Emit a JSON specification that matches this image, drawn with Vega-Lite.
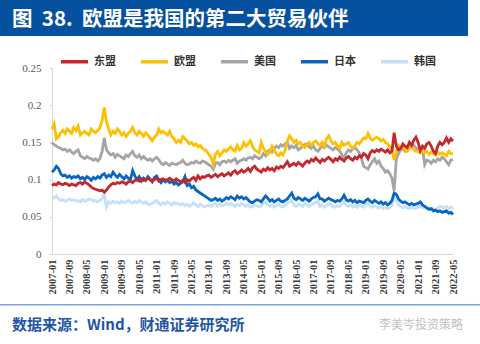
{
"$schema": "https://vega.github.io/schema/vega-lite/v6.json",
"padding": 0,
"spacing": 0,
"background": "white",
"config": {"view": {"stroke": null}},
"resolve": {"scale": {"color": "independent"}, "legend": {"color": "independent"}},
"vconcat": [
{
"width": 468, "height": 36,
"view": {"fill": "#05509F", "stroke": null},
"data": {"values": [{"t": "图\u00a0\u00a038.\u00a0\u00a0欧盟是我国的第二大贸易伙伴"}]},
"mark": {"type": "text", "align": "left", "baseline": "middle", "dx": -222, "dy": 2, "color": "white", "font": "Noto Sans CJK SC", "fontSize": 20.5, "fontWeight": "bold"},
"encoding": {"text": {"field": "t"}}
},
{
"spacing": 0,
"resolve": {"scale": {"color": "independent"}, "legend": {"color": "independent"}},
"hconcat": [
{
"width": 21, "height": 186,
"data": {"values": [{"t": ""}]},
"mark": {"type": "text"},
"encoding": {"text": {"field": "t"}}
},
{
"width": 401, "height": 186,
"data": {"values": [
{"d":"2007-01","东盟":0.092,"欧盟":0.168,"美国":0.150,"日本":0.110,"韩国":0.077},
{"d":"2007-02","东盟":0.094,"欧盟":0.175,"美国":0.147,"日本":0.113,"韩国":0.075},
{"d":"2007-03","东盟":0.093,"欧盟":0.155,"美国":0.145,"日本":0.118,"韩国":0.078},
{"d":"2007-04","东盟":0.096,"欧盟":0.158,"美国":0.143,"日本":0.115,"韩国":0.074},
{"d":"2007-05","东盟":0.094,"欧盟":0.163,"美国":0.142,"日本":0.108,"韩国":0.072},
{"d":"2007-06","东盟":0.093,"欧盟":0.166,"美国":0.140,"日本":0.105,"韩国":0.073},
{"d":"2007-07","东盟":0.095,"欧盟":0.162,"美国":0.141,"日本":0.106,"韩国":0.071},
{"d":"2007-08","东盟":0.094,"欧盟":0.168,"美国":0.138,"日本":0.103,"韩国":0.072},
{"d":"2007-09","东盟":0.092,"欧盟":0.165,"美国":0.140,"日本":0.105,"韩国":0.074},
{"d":"2007-10","东盟":0.094,"欧盟":0.162,"美国":0.137,"日本":0.102,"韩国":0.072},
{"d":"2007-11","东盟":0.093,"欧盟":0.170,"美国":0.135,"日本":0.104,"韩国":0.073},
{"d":"2007-12","东盟":0.092,"欧盟":0.166,"美国":0.138,"日本":0.103,"韩国":0.071},
{"d":"2008-01","东盟":0.095,"欧盟":0.172,"美国":0.140,"日本":0.105,"韩国":0.072},
{"d":"2008-02","东盟":0.096,"欧盟":0.160,"美国":0.132,"日本":0.101,"韩国":0.070},
{"d":"2008-03","东盟":0.094,"欧盟":0.163,"美国":0.130,"日本":0.103,"韩国":0.073},
{"d":"2008-04","东盟":0.097,"欧盟":0.165,"美国":0.128,"日本":0.100,"韩国":0.071},
{"d":"2008-05","东盟":0.095,"欧盟":0.162,"美国":0.131,"日本":0.104,"韩国":0.072},
{"d":"2008-06","东盟":0.093,"欧盟":0.160,"美国":0.129,"日本":0.102,"韩国":0.074},
{"d":"2008-07","东盟":0.090,"欧盟":0.168,"美国":0.128,"日本":0.099,"韩国":0.073},
{"d":"2008-08","东盟":0.088,"欧盟":0.165,"美国":0.126,"日本":0.103,"韩国":0.071},
{"d":"2008-09","东盟":0.087,"欧盟":0.163,"美国":0.128,"日本":0.101,"韩国":0.072},
{"d":"2008-10","东盟":0.086,"欧盟":0.166,"美国":0.125,"日本":0.104,"韩国":0.070},
{"d":"2008-11","东盟":0.085,"欧盟":0.170,"美国":0.128,"日本":0.102,"韩国":0.072},
{"d":"2008-12","东盟":0.086,"欧盟":0.180,"美国":0.138,"日本":0.106,"韩国":0.075},
{"d":"2009-01","东盟":0.083,"欧盟":0.197,"美国":0.156,"日本":0.108,"韩国":0.080},
{"d":"2009-02","东盟":0.086,"欧盟":0.178,"美国":0.140,"日本":0.103,"韩国":0.063},
{"d":"2009-03","东盟":0.090,"欧盟":0.168,"美国":0.136,"日本":0.106,"韩国":0.070},
{"d":"2009-04","东盟":0.093,"欧盟":0.160,"美国":0.133,"日本":0.104,"韩国":0.068},
{"d":"2009-05","东盟":0.095,"欧盟":0.165,"美国":0.135,"日本":0.110,"韩国":0.071},
{"d":"2009-06","东盟":0.094,"欧盟":0.162,"美国":0.130,"日本":0.106,"韩国":0.069},
{"d":"2009-07","东盟":0.096,"欧盟":0.168,"美国":0.134,"日本":0.103,"韩国":0.070},
{"d":"2009-08","东盟":0.095,"欧盟":0.165,"美国":0.132,"日本":0.107,"韩国":0.068},
{"d":"2009-09","东盟":0.097,"欧盟":0.160,"美国":0.130,"日本":0.104,"韩国":0.071},
{"d":"2009-10","东盟":0.096,"欧盟":0.163,"美国":0.128,"日本":0.101,"韩国":0.069},
{"d":"2009-11","东盟":0.094,"欧盟":0.158,"美国":0.133,"日本":0.105,"韩国":0.070},
{"d":"2009-12","东盟":0.097,"欧盟":0.162,"美国":0.131,"日本":0.102,"韩国":0.072},
{"d":"2010-01","东盟":0.098,"欧盟":0.165,"美国":0.135,"日本":0.100,"韩国":0.070},
{"d":"2010-02","东盟":0.096,"欧盟":0.170,"美国":0.138,"日本":0.112,"韩国":0.068},
{"d":"2010-03","东盟":0.099,"欧盟":0.163,"美国":0.132,"日本":0.105,"韩国":0.071},
{"d":"2010-04","东盟":0.100,"欧盟":0.160,"美国":0.130,"日本":0.100,"韩国":0.069},
{"d":"2010-05","东盟":0.098,"欧盟":0.165,"美国":0.133,"日本":0.104,"韩国":0.072},
{"d":"2010-06","东盟":0.101,"欧盟":0.162,"美国":0.128,"日本":0.098,"韩国":0.070},
{"d":"2010-07","东盟":0.099,"欧盟":0.158,"美国":0.131,"日本":0.102,"韩国":0.068},
{"d":"2010-08","东盟":0.100,"欧盟":0.163,"美国":0.128,"日本":0.099,"韩国":0.070},
{"d":"2010-09","东盟":0.102,"欧盟":0.160,"美国":0.126,"日本":0.104,"韩国":0.067},
{"d":"2010-10","东盟":0.100,"欧盟":0.156,"美国":0.128,"日本":0.101,"韩国":0.066},
{"d":"2010-11","东盟":0.098,"欧盟":0.152,"美国":0.125,"日本":0.097,"韩国":0.068},
{"d":"2010-12","东盟":0.100,"欧盟":0.157,"美国":0.128,"日本":0.103,"韩国":0.070},
{"d":"2011-01","东盟":0.102,"欧盟":0.160,"美国":0.130,"日本":0.105,"韩国":0.072},
{"d":"2011-02","东盟":0.098,"欧盟":0.168,"美国":0.127,"日本":0.100,"韩国":0.068},
{"d":"2011-03","东盟":0.100,"欧盟":0.163,"美国":0.122,"日本":0.096,"韩国":0.066},
{"d":"2011-04","东盟":0.101,"欧盟":0.165,"美国":0.120,"日本":0.100,"韩国":0.069},
{"d":"2011-05","东盟":0.099,"欧盟":0.162,"美国":0.123,"日本":0.097,"韩国":0.067},
{"d":"2011-06","东盟":0.100,"欧盟":0.160,"美国":0.121,"日本":0.099,"韩国":0.070},
{"d":"2011-07","东盟":0.102,"欧盟":0.165,"美国":0.119,"日本":0.096,"韩国":0.068},
{"d":"2011-08","东盟":0.100,"欧盟":0.158,"美国":0.122,"日本":0.098,"韩国":0.066},
{"d":"2011-09","东盟":0.098,"欧盟":0.155,"美国":0.121,"日本":0.094,"韩国":0.069},
{"d":"2011-10","东盟":0.101,"欧盟":0.150,"美国":0.120,"日本":0.096,"韩国":0.067},
{"d":"2011-11","东盟":0.099,"欧盟":0.153,"美国":0.122,"日本":0.093,"韩国":0.068},
{"d":"2011-12","东盟":0.097,"欧盟":0.150,"美国":0.123,"日本":0.095,"韩国":0.066},
{"d":"2012-01","东盟":0.099,"欧盟":0.158,"美国":0.126,"日本":0.097,"韩国":0.068},
{"d":"2012-02","东盟":0.096,"欧盟":0.155,"美国":0.122,"日本":0.104,"韩国":0.065},
{"d":"2012-03","东盟":0.100,"欧盟":0.152,"美国":0.120,"日本":0.092,"韩国":0.067},
{"d":"2012-04","东盟":0.098,"欧盟":0.148,"美国":0.121,"日本":0.094,"韩国":0.064},
{"d":"2012-05","东盟":0.101,"欧盟":0.150,"美国":0.123,"日本":0.089,"韩国":0.066},
{"d":"2012-06","东盟":0.103,"欧盟":0.146,"美国":0.122,"日本":0.091,"韩国":0.069},
{"d":"2012-07","东盟":0.099,"欧盟":0.148,"美国":0.125,"日本":0.086,"韩国":0.066},
{"d":"2012-08","东盟":0.105,"欧盟":0.144,"美国":0.123,"日本":0.084,"韩国":0.064},
{"d":"2012-09","东盟":0.101,"欧盟":0.146,"美国":0.122,"日本":0.082,"韩国":0.067},
{"d":"2012-10","东盟":0.104,"欧盟":0.142,"美国":0.125,"日本":0.080,"韩国":0.065},
{"d":"2012-11","东盟":0.103,"欧盟":0.140,"美国":0.124,"日本":0.078,"韩国":0.063},
{"d":"2012-12","东盟":0.105,"欧盟":0.138,"美国":0.122,"日本":0.076,"韩国":0.065},
{"d":"2013-01","东盟":0.106,"欧盟":0.134,"美国":0.120,"日本":0.074,"韩国":0.066},
{"d":"2013-02","东盟":0.103,"欧盟":0.130,"美国":0.118,"日本":0.072,"韩国":0.064},
{"d":"2013-03","东盟":0.105,"欧盟":0.121,"美国":0.114,"日本":0.073,"韩国":0.066},
{"d":"2013-04","东盟":0.107,"欧盟":0.134,"美国":0.122,"日本":0.075,"韩国":0.068},
{"d":"2013-05","东盟":0.104,"欧盟":0.138,"美国":0.123,"日本":0.072,"韩国":0.065},
{"d":"2013-06","东盟":0.106,"欧盟":0.132,"美国":0.120,"日本":0.074,"韩国":0.067},
{"d":"2013-07","东盟":0.108,"欧盟":0.136,"美国":0.124,"日本":0.071,"韩国":0.065},
{"d":"2013-08","东盟":0.105,"欧盟":0.140,"美国":0.125,"日本":0.073,"韩国":0.066},
{"d":"2013-09","东盟":0.107,"欧盟":0.138,"美国":0.123,"日本":0.076,"韩国":0.069},
{"d":"2013-10","东盟":0.109,"欧盟":0.141,"美国":0.126,"日本":0.074,"韩国":0.066},
{"d":"2013-11","东盟":0.106,"欧盟":0.144,"美国":0.124,"日本":0.077,"韩国":0.068},
{"d":"2013-12","东盟":0.110,"欧盟":0.140,"美国":0.126,"日本":0.075,"韩国":0.066},
{"d":"2014-01","东盟":0.112,"欧盟":0.138,"美国":0.128,"日本":0.073,"韩国":0.064},
{"d":"2014-02","东盟":0.108,"欧盟":0.146,"美国":0.122,"日本":0.078,"韩国":0.067},
{"d":"2014-03","东盟":0.110,"欧盟":0.140,"美国":0.125,"日本":0.075,"韩国":0.065},
{"d":"2014-04","东盟":0.113,"欧盟":0.142,"美国":0.126,"日本":0.077,"韩国":0.068},
{"d":"2014-05","东盟":0.110,"欧盟":0.150,"美国":0.128,"日本":0.074,"韩国":0.066},
{"d":"2014-06","东盟":0.112,"欧盟":0.145,"美国":0.126,"日本":0.076,"韩国":0.064},
{"d":"2014-07","东盟":0.115,"欧盟":0.148,"美国":0.129,"日本":0.073,"韩国":0.066},
{"d":"2014-08","东盟":0.111,"欧盟":0.152,"美国":0.130,"日本":0.070,"韩国":0.063},
{"d":"2014-09","东盟":0.116,"欧盟":0.145,"美国":0.128,"日本":0.069,"韩国":0.064},
{"d":"2014-10","东盟":0.118,"欧盟":0.140,"美国":0.132,"日本":0.071,"韩国":0.066},
{"d":"2014-11","东盟":0.114,"欧盟":0.138,"美国":0.130,"日本":0.073,"韩国":0.065},
{"d":"2014-12","东盟":0.112,"欧盟":0.136,"美国":0.128,"日本":0.072,"韩国":0.063},
{"d":"2015-01","东盟":0.110,"欧盟":0.150,"美国":0.130,"日本":0.070,"韩国":0.065},
{"d":"2015-02","东盟":0.114,"欧盟":0.142,"美国":0.135,"日本":0.074,"韩国":0.068},
{"d":"2015-03","东盟":0.112,"欧盟":0.138,"美国":0.132,"日本":0.078,"韩国":0.070},
{"d":"2015-04","东盟":0.116,"欧盟":0.134,"美国":0.138,"日本":0.075,"韩国":0.066},
{"d":"2015-05","东盟":0.113,"欧盟":0.137,"美国":0.140,"日本":0.071,"韩国":0.064},
{"d":"2015-06","东盟":0.115,"欧盟":0.145,"美国":0.137,"日本":0.073,"韩国":0.066},
{"d":"2015-07","东盟":0.112,"欧盟":0.140,"美国":0.142,"日本":0.070,"韩国":0.063},
{"d":"2015-08","东盟":0.117,"欧盟":0.134,"美国":0.145,"日本":0.072,"韩国":0.065},
{"d":"2015-09","东盟":0.115,"欧盟":0.132,"美国":0.143,"日本":0.074,"韩国":0.067},
{"d":"2015-10","东盟":0.118,"欧盟":0.136,"美国":0.147,"日本":0.071,"韩国":0.064},
{"d":"2015-11","东盟":0.116,"欧盟":0.133,"美国":0.145,"日本":0.070,"韩国":0.063},
{"d":"2015-12","东盟":0.120,"欧盟":0.140,"美国":0.148,"日本":0.072,"韩国":0.066},
{"d":"2016-01","东盟":0.124,"欧盟":0.152,"美国":0.150,"日本":0.074,"韩国":0.068},
{"d":"2016-02","东盟":0.118,"欧盟":0.159,"美国":0.142,"日本":0.078,"韩国":0.070},
{"d":"2016-03","东盟":0.120,"欧盟":0.155,"美国":0.145,"日本":0.082,"韩国":0.072},
{"d":"2016-04","东盟":0.122,"欧盟":0.150,"美国":0.143,"日本":0.075,"韩国":0.066},
{"d":"2016-05","东盟":0.119,"欧盟":0.153,"美国":0.146,"日本":0.073,"韩国":0.064},
{"d":"2016-06","东盟":0.123,"欧盟":0.148,"美国":0.140,"日本":0.076,"韩国":0.067},
{"d":"2016-07","东盟":0.121,"欧盟":0.150,"美国":0.142,"日本":0.074,"韩国":0.066},
{"d":"2016-08","东盟":0.118,"欧盟":0.145,"美国":0.145,"日本":0.072,"韩国":0.064},
{"d":"2016-09","东盟":0.122,"欧盟":0.143,"美国":0.147,"日本":0.075,"韩国":0.068},
{"d":"2016-10","东盟":0.125,"欧盟":0.147,"美国":0.148,"日本":0.073,"韩国":0.066},
{"d":"2016-11","东盟":0.123,"欧盟":0.150,"美国":0.144,"日本":0.071,"韩国":0.064},
{"d":"2016-12","东盟":0.127,"欧盟":0.146,"美国":0.142,"日本":0.074,"韩国":0.066},
{"d":"2017-01","东盟":0.125,"欧盟":0.150,"美国":0.145,"日本":0.076,"韩国":0.068},
{"d":"2017-02","东盟":0.129,"欧盟":0.152,"美国":0.140,"日本":0.077,"韩国":0.069},
{"d":"2017-03","东盟":0.126,"欧盟":0.148,"美国":0.138,"日本":0.081,"韩国":0.071},
{"d":"2017-04","东盟":0.123,"欧盟":0.146,"美国":0.142,"日本":0.074,"韩国":0.064},
{"d":"2017-05","东盟":0.127,"欧盟":0.150,"美国":0.145,"日本":0.074,"韩国":0.066},
{"d":"2017-06","东盟":0.125,"欧盟":0.145,"美国":0.143,"日本":0.071,"韩国":0.063},
{"d":"2017-07","东盟":0.128,"欧盟":0.155,"美国":0.146,"日本":0.073,"韩国":0.065},
{"d":"2017-08","东盟":0.130,"欧盟":0.159,"美国":0.144,"日本":0.075,"韩国":0.068},
{"d":"2017-09","东盟":0.127,"欧盟":0.152,"美国":0.142,"日本":0.073,"韩国":0.066},
{"d":"2017-10","东盟":0.124,"欧盟":0.148,"美国":0.140,"日本":0.072,"韩国":0.064},
{"d":"2017-11","东盟":0.128,"欧盟":0.150,"美国":0.143,"日本":0.070,"韩国":0.063},
{"d":"2017-12","东盟":0.126,"欧盟":0.145,"美国":0.141,"日本":0.072,"韩国":0.065},
{"d":"2018-01","东盟":0.130,"欧盟":0.142,"美国":0.138,"日本":0.071,"韩国":0.064},
{"d":"2018-02","东盟":0.127,"欧盟":0.150,"美国":0.134,"日本":0.074,"韩国":0.067},
{"d":"2018-03","东盟":0.125,"欧盟":0.146,"美国":0.128,"日本":0.079,"韩国":0.070},
{"d":"2018-04","东盟":0.129,"欧盟":0.148,"美国":0.136,"日本":0.073,"韩国":0.066},
{"d":"2018-05","东盟":0.131,"欧盟":0.150,"美国":0.140,"日本":0.071,"韩国":0.064},
{"d":"2018-06","东盟":0.128,"欧盟":0.145,"美国":0.138,"日本":0.073,"韩国":0.066},
{"d":"2018-07","东盟":0.126,"欧盟":0.142,"美国":0.141,"日本":0.070,"韩国":0.063},
{"d":"2018-08","东盟":0.130,"欧盟":0.146,"美国":0.143,"日本":0.072,"韩国":0.065},
{"d":"2018-09","东盟":0.128,"欧盟":0.150,"美国":0.140,"日本":0.069,"韩国":0.063},
{"d":"2018-10","东盟":0.132,"欧盟":0.148,"美国":0.136,"日本":0.071,"韩国":0.066},
{"d":"2018-11","东盟":0.130,"欧盟":0.152,"美国":0.128,"日本":0.070,"韩国":0.064},
{"d":"2018-12","东盟":0.135,"欧盟":0.156,"美国":0.118,"日本":0.069,"韩国":0.063},
{"d":"2019-01","东盟":0.133,"欧盟":0.155,"美国":0.116,"日本":0.072,"韩国":0.066},
{"d":"2019-02","东盟":0.128,"欧盟":0.162,"美国":0.114,"日本":0.074,"韩国":0.068},
{"d":"2019-03","东盟":0.136,"欧盟":0.156,"美国":0.120,"日本":0.071,"韩国":0.064},
{"d":"2019-04","东盟":0.139,"欧盟":0.153,"美国":0.124,"日本":0.069,"韩国":0.063},
{"d":"2019-05","东盟":0.137,"欧盟":0.155,"美国":0.128,"日本":0.072,"韩国":0.065},
{"d":"2019-06","东盟":0.140,"欧盟":0.157,"美国":0.122,"日本":0.070,"韩国":0.063},
{"d":"2019-07","东盟":0.138,"欧盟":0.155,"美国":0.125,"日本":0.068,"韩国":0.062},
{"d":"2019-08","东盟":0.141,"欧盟":0.152,"美国":0.118,"日本":0.070,"韩国":0.064},
{"d":"2019-09","东盟":0.139,"欧盟":0.154,"美国":0.115,"日本":0.067,"韩国":0.061},
{"d":"2019-10","东盟":0.137,"欧盟":0.150,"美国":0.110,"日本":0.069,"韩国":0.063},
{"d":"2019-11","东盟":0.140,"欧盟":0.148,"美国":0.112,"日本":0.066,"韩国":0.061},
{"d":"2019-12","东盟":0.136,"欧盟":0.144,"美国":0.108,"日本":0.068,"韩国":0.062},
{"d":"2020-01","东盟":0.138,"欧盟":0.140,"美国":0.102,"日本":0.072,"韩国":0.065},
{"d":"2020-02","东盟":0.163,"欧盟":0.126,"美国":0.085,"日本":0.082,"韩国":0.075},
{"d":"2020-03","东盟":0.145,"欧盟":0.138,"美国":0.128,"日本":0.080,"韩国":0.072},
{"d":"2020-04","东盟":0.140,"欧盟":0.146,"美国":0.135,"日本":0.074,"韩国":0.066},
{"d":"2020-05","东盟":0.142,"欧盟":0.142,"美国":0.140,"日本":0.071,"韩国":0.064},
{"d":"2020-06","东盟":0.148,"欧盟":0.145,"美国":0.142,"日本":0.069,"韩国":0.062},
{"d":"2020-07","东盟":0.145,"欧盟":0.140,"美国":0.138,"日本":0.070,"韩国":0.064},
{"d":"2020-08","东盟":0.143,"欧盟":0.138,"美国":0.140,"日本":0.068,"韩国":0.062},
{"d":"2020-09","东盟":0.150,"欧盟":0.142,"美国":0.142,"日本":0.066,"韩国":0.061},
{"d":"2020-10","东盟":0.146,"欧盟":0.145,"美国":0.144,"日本":0.068,"韩国":0.063},
{"d":"2020-11","东盟":0.153,"欧盟":0.140,"美国":0.146,"日本":0.066,"韩国":0.061},
{"d":"2020-12","东盟":0.157,"欧盟":0.138,"美国":0.143,"日本":0.067,"韩国":0.062},
{"d":"2021-01","东盟":0.150,"欧盟":0.138,"美国":0.140,"日本":0.068,"韩国":0.063},
{"d":"2021-02","东盟":0.139,"欧盟":0.136,"美国":0.138,"日本":0.070,"韩国":0.065},
{"d":"2021-03","东盟":0.145,"欧盟":0.140,"美国":0.142,"日本":0.066,"韩国":0.062},
{"d":"2021-04","东盟":0.142,"欧盟":0.136,"美国":0.120,"日本":0.064,"韩国":0.063},
{"d":"2021-05","东盟":0.148,"欧盟":0.138,"美国":0.126,"日本":0.062,"韩国":0.061},
{"d":"2021-06","东盟":0.150,"欧盟":0.134,"美国":0.125,"日本":0.060,"韩国":0.062},
{"d":"2021-07","东盟":0.145,"欧盟":0.137,"美国":0.122,"日本":0.061,"韩国":0.060},
{"d":"2021-08","东盟":0.138,"欧盟":0.135,"美国":0.126,"日本":0.058,"韩国":0.061},
{"d":"2021-09","东盟":0.135,"欧盟":0.133,"美国":0.124,"日本":0.059,"韩国":0.059},
{"d":"2021-10","东盟":0.145,"欧盟":0.137,"美国":0.128,"日本":0.057,"韩国":0.062},
{"d":"2021-11","东盟":0.150,"欧盟":0.134,"美国":0.126,"日本":0.058,"韩国":0.064},
{"d":"2021-12","东盟":0.147,"欧盟":0.136,"美国":0.130,"日本":0.056,"韩国":0.063},
{"d":"2022-01","东盟":0.150,"欧盟":0.134,"美国":0.128,"日本":0.057,"韩国":0.062},
{"d":"2022-02","东盟":0.156,"欧盟":0.132,"美国":0.124,"日本":0.058,"韩国":0.064},
{"d":"2022-03","东盟":0.150,"欧盟":0.138,"美国":0.120,"日本":0.055,"韩国":0.061},
{"d":"2022-04","东盟":0.155,"欧盟":0.135,"美国":0.126,"日本":0.056,"韩国":0.063},
{"d":"2022-05","东盟":0.152,"欧盟":0.135,"美国":0.127,"日本":0.053,"韩国":0.062}
]},
"transform": [{"fold": ["韩国", "日本", "美国", "欧盟", "东盟"], "as": ["s", "v"]}],
"mark": {"type": "line", "strokeWidth": 2.8},
"encoding": {
"x": {"field": "d", "type": "ordinal", "scale": {"type": "point", "padding": 0},
"axis": {"values": ["2007-01","2007-09","2008-05","2009-01","2009-09","2010-05","2011-01","2011-09","2012-05","2013-01","2013-09","2014-05","2015-01","2015-09","2016-05","2017-01","2017-09","2018-05","2019-01","2019-09","2020-05","2021-01","2021-09","2022-05"],
"labelAngle": 270, "labelFont": "Liberation Serif", "labelFontSize": 10.5, "labelFontWeight": "bold", "labelColor": "#3a3a3a", "ticks": false, "domainColor": "#D9D9D9", "labelPadding": 5, "labelOverlap": false,
"title": "\u00a0", "titleY": 44, "titleBaseline": "bottom", "titleColor": "#ffffff", "titleFontSize": 8}},
"y": {"field": "v", "type": "quantitative", "scale": {"domain": [0, 0.25]},
"axis": {"values": [0, 0.05, 0.1, 0.15, 0.2, 0.25], "format": "~g", "labelFont": "Liberation Serif", "labelFontSize": 11, "labelColor": "#595959", "grid": false, "domainColor": "#D9D9D9", "tickColor": "#D9D9D9", "tickSize": 3, "labelPadding": 8,
"title": "\u00a0", "titleX": -20, "titleY": -31.5, "titleAngle": 0, "titleAlign": "left", "titleBaseline": "top", "titleColor": "#ffffff", "titleFontSize": 8}},
"color": {"field": "s", "type": "nominal",
"scale": {"domain": ["东盟", "欧盟", "美国", "日本", "韩国"], "range": ["#C4272D", "#FFC000", "#A5A5A5", "#0866C0", "#C5E0F8"]},
"legend": {"orient": "none", "legendX": 7, "legendY": -22, "direction": "horizontal", "columns": 5, "title": null, "symbolType": "stroke", "symbolSize": 729, "symbolStrokeWidth": 3.5, "labelFont": "Noto Sans CJK SC", "labelFontSize": 11, "labelFontWeight": "bold", "labelColor": "#333333", "columnPadding": 18, "labelOffset": 4, "padding": 0}}
}
}
]
},
{
"width": 480, "height": 1.5,
"view": {"fill": "#7DA6D9", "stroke": null},
"data": {"values": [{"t": ""}]},
"mark": {"type": "text"},
"encoding": {"text": {"field": "t"}}
},
{
"width": 480, "height": 29,
"data": {"values": [{"t": "数据来源：Wind，财通证券研究所", "w": "李美岑投资策略"}]},
"layer": [
{"mark": {"type": "text", "align": "left", "baseline": "middle", "dx": -228, "font": "Noto Sans CJK SC", "fontSize": 15, "fontWeight": "bold", "color": "#1F55A5"}, "encoding": {"text": {"field": "t"}}},
{"mark": {"type": "text", "align": "right", "baseline": "middle", "dx": 223, "font": "Noto Sans CJK SC", "fontSize": 12, "color": "#BFBFBF"}, "encoding": {"text": {"field": "w"}}}
]
}
]
}
